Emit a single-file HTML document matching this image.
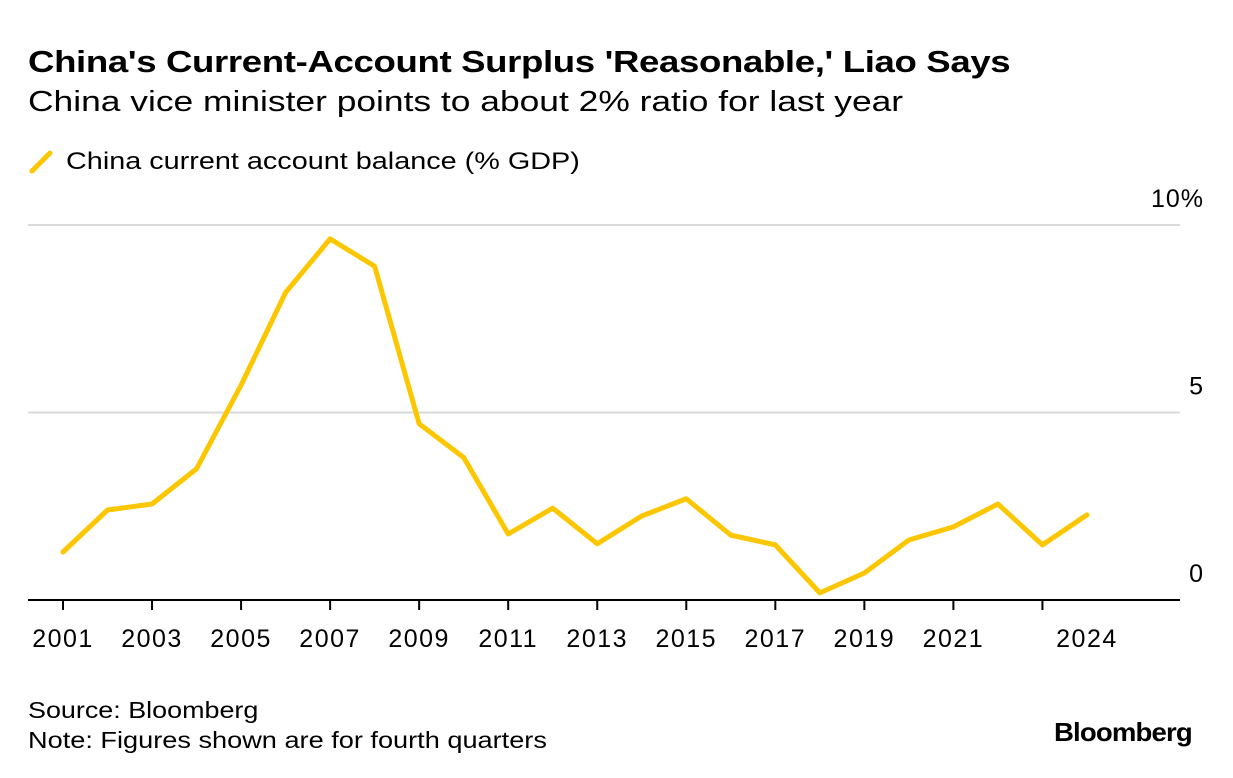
<!DOCTYPE html>
<html><head><meta charset="utf-8"><style>
body{margin:0;background:#fff;font-family:"Liberation Sans",sans-serif;color:#000}
#wrap{position:relative;width:1233px;height:778px;overflow:hidden}
.t{position:absolute;white-space:nowrap;transform-origin:0 0}
</style></head><body>
<div id="wrap">
<div class="t" style="left:28px;top:44px;font-size:31px;font-weight:bold;letter-spacing:-0.3px;transform:scaleX(1.18)">China's Current-Account Surplus 'Reasonable,' Liao Says</div>
<div class="t" style="left:28px;top:86px;font-size:29px;transform:scaleX(1.22)">China vice minister points to about 2% ratio for last year</div>
<svg width="30" height="26" style="position:absolute;left:27px;top:149px"><line x1="5" y1="22" x2="23" y2="4" stroke="#fcc700" stroke-width="5" stroke-linecap="round"/></svg>
<div class="t" style="left:66px;top:148px;font-size:24px;transform:scaleX(1.2)">China current account balance (% GDP)</div>
<svg id="plot" width="1233" height="778" style="position:absolute;left:0;top:0"></svg>
<div class="t" style="left:28px;top:697px;font-size:23px;transform:scaleX(1.17)">Source: Bloomberg</div>
<div class="t" style="left:28px;top:727px;font-size:23px;transform:scaleX(1.18)">Note: Figures shown are for fourth quarters</div>
<div class="t" style="left:1054px;top:717px;font-size:26px;font-weight:bold;letter-spacing:-0.8px;transform:scaleX(1.06)">Bloomberg</div>
</div>
<script>
const years=[2001,2002,2003,2004,2005,2006,2007,2008,2009,2010,2011,2012,2013,2014,2015,2016,2017,2018,2019,2020,2021,2022,2023,2024];
const values=[1.28,2.4,2.56,3.5,5.73,8.2,9.63,8.9,4.7,3.8,1.76,2.45,1.5,2.24,2.7,1.73,1.47,0.19,0.72,1.6,1.95,2.56,1.47,2.27];
const yTicks=[0,5,10];
const yTickLabels=["0","5","10%"];
const xTickLabels=[2001,2003,2005,2007,2009,2011,2013,2015,2017,2019,2021,2024];
const xTickMarks=[2001,2003,2005,2007,2009,2011,2013,2015,2017,2019,2021,2023];
const NS="http://www.w3.org/2000/svg";
const svg=document.getElementById('plot');
const x=v=>63+(v-2001)*44.52;
const y=v=>600-v*37.5;
function mk(t,a){const e=document.createElementNS(NS,t);for(const k in a)e.setAttribute(k,a[k]);svg.appendChild(e);return e;}
yTicks.forEach((t,i)=>{
 if(t!==0){const g=mk('line',{x1:28,x2:1180,y1:y(t),y2:y(t),stroke:'#d9d9d9','stroke-width':2});
 
 }
 const l=mk('text',{x:1204,y:y(t)-18,'text-anchor':'end','font-size':25,'letter-spacing':1,'font-family':'Liberation Sans'});
 l.textContent=yTickLabels[i];
 
 
});
const ax=mk('line',{x1:28,x2:1180,y1:600,y2:600,stroke:'#000','stroke-width':2});


xTickMarks.forEach(t=>{const m=mk('line',{x1:x(t),x2:x(t),y1:600,y2:610,stroke:'#000','stroke-width':2});
 
 });
xTickLabels.forEach(t=>{const l=mk('text',{x:x(t),y:647,'text-anchor':'middle','font-size':25,'letter-spacing':1.5,'font-family':'Liberation Sans'});
 l.textContent=t;
 
 });
const p=mk('polyline',{points:years.map((yr,i)=>x(yr)+','+y(values[i])).join(' '),fill:'none',stroke:'#fcc700','stroke-width':5,'stroke-linejoin':'round','stroke-linecap':'round'});


</script>
</body></html>
